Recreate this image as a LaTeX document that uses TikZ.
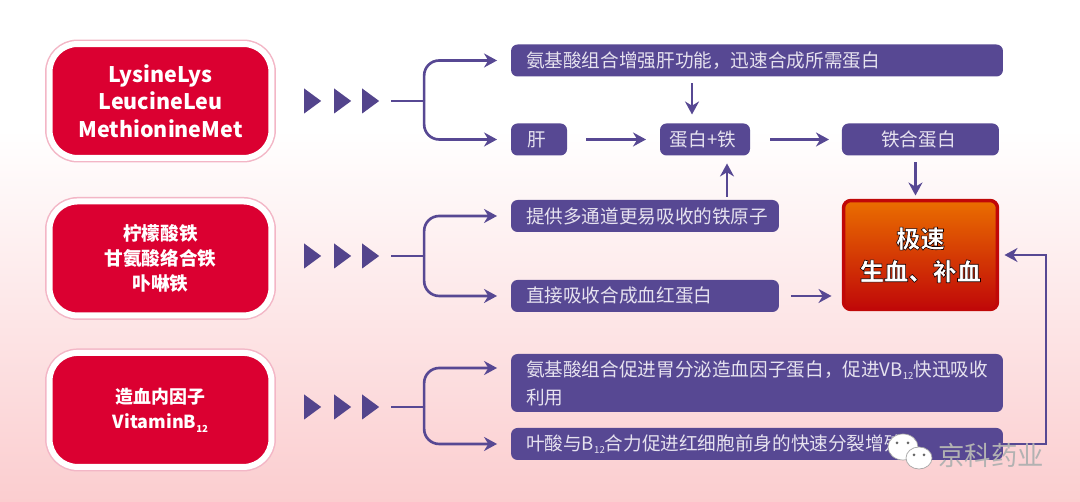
\documentclass[tikz,border=0pt]{standalone}
\usepackage{fontspec}
\setmainfont{Noto Sans CJK SC}
\usetikzlibrary{positioning, arrows.meta, shapes.geometric}
\definecolor{boxpurple}{HTML}{574893}
\definecolor{boxred}{HTML}{DB0031}
\definecolor{boxtext}{HTML}{E6E2EF}
\definecolor{rimpink}{HTML}{F3B6C6}
\definecolor{bgpink}{HTML}{FBCDCF}
\definecolor{fireorange}{HTML}{EA6E00}
\definecolor{firered}{HTML}{D41000}
\definecolor{firedark}{HTML}{C00808}
\newcommand{\haloon}{\special{pdf:code 2 Tr 0.35 w 0.1 0 0 RG 1 1 1 rg}}
\newcommand{\lowsub}[1]{\raisebox{-0.35ex}{\fontsize{5.5}{6}\selectfont #1}}
\tikzset{
  redbox/.style={
    rectangle, rounded corners=0.56cm,
    fill=boxred, draw=white, line width=0.12cm,
    preaction={draw=rimpink, line width=0.18cm},
    text=white, font=\fontsize{12.2}{15.6}\selectfont\bfseries,
    align=center, outer sep=0pt,
    minimum width=4.44cm, minimum height=2.28cm
  },
  chainmark/.style={
    isosceles triangle, isosceles triangle apex angle=68,
    isosceles triangle stretches, fill=boxpurple!95!black,
    inner sep=0pt, outer sep=0pt,
    minimum width=0.5cm, minimum height=0.34cm
  },
  purplebox/.style={
    rectangle, rounded corners=0.13cm,
    fill=boxpurple, text=boxtext,
    font=\fontsize{10.6}{15.9}\selectfont,
    align=center, outer sep=0pt,
    minimum height=0.64cm, inner sep=0pt
  },
  longbox/.style={
    purplebox, align=left, text width=9.24cm,
    minimum width=9.84cm
  },
  midbox/.style={
    purplebox, align=left, text width=4.76cm,
    minimum width=5.36cm
  },
  resultbox/.style={
    rectangle, rounded corners=0.15cm,
    draw=firedark, line width=0.07cm,
    top color=fireorange, middle color=firered, bottom color=firedark,
    text=white, font=\fontsize{13.8}{18.6}\selectfont\bfseries,
    align=center, outer sep=0pt,
    minimum width=3.08cm, minimum height=2.18cm
  },
  arrow/.style={draw=boxpurple, line width=1.5pt, -{Stealth[length=2.6mm, width=2.8mm]}},
  stem/.style={draw=boxpurple, line width=1.5pt},
  fork/.style={arrow, rounded corners=0.3cm, shorten >=0.28cm}
}

\begin{document}
\begin{tikzpicture}[x=0.02cm, y=-0.02cm]

\useasboundingbox (0,0) rectangle (1080,502);

% ==============================================================================
% Background
% ==============================================================================
\fill[white] (0,0) rectangle (1080,140);
\shade[top color=white, bottom color=bgpink] (0,130) rectangle (1080,502);

% ==============================================================================
% Left column
% ==============================================================================
\node[redbox] (amino) at (160.5,101) {
  LysineLys\\
  LeucineLeu\\
  MethionineMet
};

\node[redbox, below=0.87cm of amino, font=\fontsize{10.6}{14}\selectfont\bfseries] (iron) {
  柠檬酸铁\\
  甘氨酸络合铁\\
  卟啉铁
};

\node[redbox, below=0.75cm of iron, font=\fontsize{10.2}{14.5}\selectfont\bfseries] (factor) {
  造血内因子\\
  VitaminB\lowsub{12}
};

% ==============================================================================
% Triangles
% ==============================================================================
\node[chainmark] (aminoa) at (310.5,101) {};
\node[chainmark, right=0.26cm of aminoa] (aminob) {};
\node[chainmark, right=0.22cm of aminob] (aminoc) {};

\node[chainmark] (irona) at (310.5,256) {};
\node[chainmark, right=0.26cm of irona] (ironb) {};
\node[chainmark, right=0.22cm of ironb] (ironc) {};

\node[chainmark] (factora) at (310.5,407) {};
\node[chainmark, right=0.26cm of factora] (factorb) {};
\node[chainmark, right=0.22cm of factorb] (factorc) {};

\coordinate[right=0.24cm of aminoc.east] (aminoout);
\coordinate[right=0.24cm of ironc.east] (ironout);
\coordinate[right=0.24cm of factorc.east] (factorout);

\coordinate[right=0.66cm of aminoout] (aminofork);
\coordinate[right=0.66cm of ironout] (ironfork);
\coordinate[right=0.66cm of factorout] (factorfork);

% ==============================================================================
% Top rows
% ==============================================================================
\node[longbox] (boost) at (757,60.5) {
  氨基酸组合增强肝功能，迅速合成所需蛋白
};

\node[purplebox, minimum width=1.12cm, below=0.94cm of boost.south west, anchor=north west] (liver) {
  肝
};

\node[purplebox, minimum width=1.8cm, right=1.86cm of liver] (protein) {
  蛋白+铁
};

\node[purplebox, minimum width=3.14cm, right=1.84cm of protein] (ferritin) {
  铁合蛋白
};

% ==============================================================================
% Middle rows
% ==============================================================================
\node[midbox] (atom) at (645,216) {
  提供多通道更易吸收的铁原子
};

\node[midbox, below=0.96cm of atom] (direct) {
  直接吸收合成血红蛋白
};

\node[resultbox] (result) at (920.5,255) {
  \haloon 极速\\
  \haloon 生血、补血
};

% ==============================================================================
% Bottom rows
% ==============================================================================
\node[longbox, minimum height=1.16cm] (gastric) at (757,383) {
  氨基酸组合促进胃分泌造血因子蛋白，促进VB\lowsub{12}快迅吸收\\
  利用
};

\node[longbox, below=0.32cm of gastric] (folate) {
  叶酸与B\lowsub{12}合力促进红细胞前身的快速分裂增殖
};

% ==============================================================================
% Arrows
% ==============================================================================
\draw[stem] (aminoout) -- (aminofork);
\draw[stem] (ironout) -- (ironfork);
\draw[stem] (factorout) -- (factorfork);

\draw[fork] (aminofork) |- (boost.west);
\draw[fork] (aminofork) |- (liver.west);
\draw[fork] (ironfork) |- (atom.west);
\draw[fork] (ironfork) |- (direct.west);
\draw[fork] (factorfork) |- ([yshift=0.3cm]gastric.west);
\draw[fork] (factorfork) |- (folate.west);

\draw[arrow, shorten <=0.14cm, shorten >=0.18cm] ([xshift=-0.26cm]protein.north |- boost.south) -- ([xshift=-0.26cm]protein.north);
\draw[arrow, shorten <=0.38cm, shorten >=0.28cm] (liver) -- (protein);
\draw[arrow, shorten <=0.4cm, shorten >=0.26cm] (protein) -- (ferritin);
\draw[arrow, shorten <=0.14cm, shorten >=0.1cm] ([xshift=-0.1cm]ferritin.south) -- ([xshift=-0.1cm]ferritin.south |- result.north);
\draw[arrow, shorten <=0.06cm, shorten >=0.16cm] ([xshift=0.44cm]protein.south |- atom.north) -- ([xshift=0.44cm]protein.south);
\draw[arrow, shorten <=0.24cm, shorten >=0.24cm] (direct.east) -- (direct.east -| result.west);
\draw[arrow, shorten >=0.14cm] (folate.east) -- ++(0.86cm,0) |- (result.east);

% ==============================================================================
% Watermark
% ==============================================================================
\draw[gray!70, fill=white, line width=0.4pt] (903,447) ellipse (15 and 13);
\draw[gray!70, fill=white, line width=0.4pt] (919,458) ellipse (13 and 11);
\fill[gray!80!black] (897,443) circle (1.5) (908,443) circle (1.5) (914,455) circle (1.5) (924,455) circle (1.5);
\node[text=gray!60, font=\fontsize{15}{18}\selectfont, inner sep=0pt] (mark) at (991,455) {京科药业};

\end{tikzpicture}
\end{document}
